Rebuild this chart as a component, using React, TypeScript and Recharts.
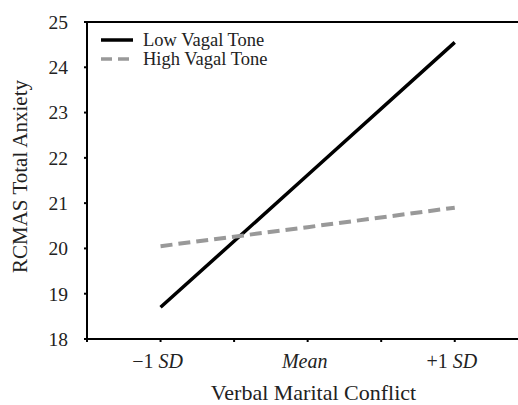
import { LineChart, Line, XAxis, YAxis, ReferenceLine } from 'recharts'

const conflictLevels = [1, 3, 5]
const conflictLabels = ['−1', 'Mean', '+1']
const lowVagalTone = [18.7, 21.62, 24.55]
const highVagalTone = [20.05, 20.47, 20.9]
const anxietyTicks = [18, 19, 20, 21, 22, 23, 24, 25]
const conflictTicks = [0, 1, 2, 3, 4, 5]
const seriesNames = ['Low Vagal Tone', 'High Vagal Tone']

const FONT = '"Liberation Serif", "DejaVu Serif", serif'

const chartData = conflictLevels.map((x, i) => ({
  x,
  low: lowVagalTone[i],
  high: highVagalTone[i],
}))

function ConflictTick(props: any) {
  const { x, y, payload } = props
  const idx = conflictLevels.indexOf(payload.value)
  if (idx < 0) return null
  const label = conflictLabels[idx]
  return (
    <text x={x} y={y} dy={24} dx={-3} textAnchor="middle" fontFamily={FONT} fontSize={20} fill="#222">
      {label === 'Mean' ? (
        <tspan fontStyle="italic">Mean</tspan>
      ) : (
        <>
          <tspan>{label} </tspan>
          <tspan fontStyle="italic">SD</tspan>
        </>
      )}
    </text>
  )
}

function LegendBox() {
  return (
    <svg width={220} height={44} style={{ position: 'absolute', left: 99, top: 30 }}>
      <line x1={2} y1={10} x2={34} y2={10} stroke="#000" strokeWidth={3.5} />
      <text x={44} y={16} fontFamily={FONT} fontSize={18.5} fill="#222">{seriesNames[0]}</text>
      <line x1={2} y1={29} x2={34} y2={29} stroke="#999" strokeWidth={3.5} strokeDasharray="11 6" />
      <text x={44} y={35} fontFamily={FONT} fontSize={18.5} fill="#222">{seriesNames[1]}</text>
    </svg>
  )
}

export default function App() {
  return (
    <div style={{ position: 'absolute', left: 0, top: 0, width: 518, height: 405, background: '#fff' }}>
      <LineChart width={518} height={405} data={chartData} margin={{ top: 22, right: 0, bottom: 0, left: 0 }}>
        <XAxis
          dataKey="x"
          type="number"
          domain={[0, 5.86]}
          ticks={conflictTicks}
          tick={<ConflictTick />}
          tickSize={3}
          tickMargin={2}
          height={66}
          stroke="#000"
          strokeWidth={2}
          label={{
            value: 'Verbal Marital Conflict',
            position: 'insideBottom',
            offset: 5,
            dx: 11,
            style: { fontFamily: FONT, fontSize: 22, fill: '#222' },
          }}
        />
        <YAxis
          domain={[18, 25]}
          ticks={anxietyTicks}
          width={87}
          tickSize={3}
          tickMargin={16}
          stroke="#000"
          strokeWidth={2}
          tick={{ fontFamily: FONT, fontSize: 19.5, fill: '#222' }}
          label={{
            value: 'RCMAS Total Anxiety',
            angle: -90,
            position: 'insideLeft',
            offset: 20,
            dy: -4,
            style: { fontFamily: FONT, fontSize: 21, fill: '#222', textAnchor: 'middle' },
          }}
        />
        <ReferenceLine y={25} stroke="#000" strokeWidth={2} />
        <Line type="linear" dataKey="low" name={seriesNames[0]} stroke="#000" strokeWidth={3.5} dot={false} isAnimationActive={false} />
        <Line
          type="linear"
          dataKey="high"
          name={seriesNames[1]}
          stroke="#999"
          strokeWidth={4}
          strokeDasharray="12 6"
          dot={false}
          isAnimationActive={false}
        />
      </LineChart>
      <LegendBox />
    </div>
  )
}
